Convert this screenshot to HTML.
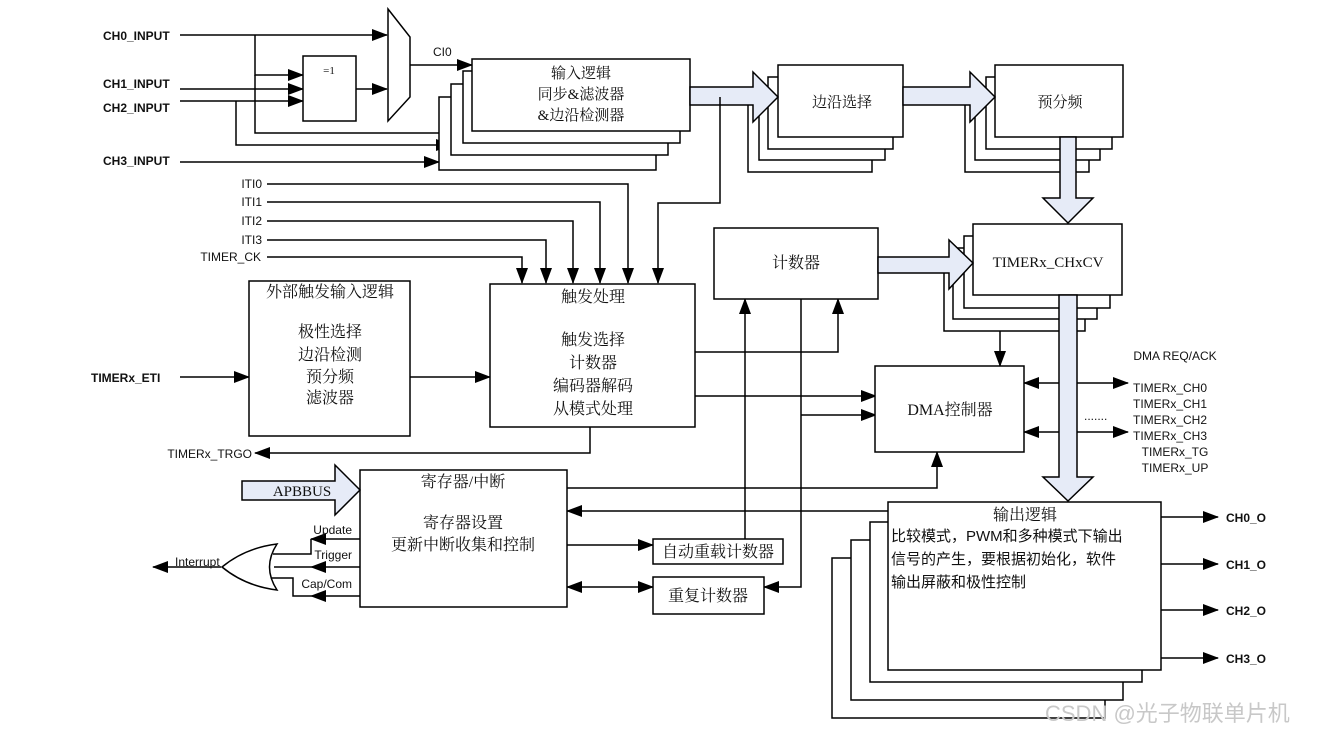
<!DOCTYPE html>
<html><head><meta charset="utf-8"><style>
html,body{margin:0;padding:0;background:#fff;}
svg{display:block;}
text{font-family:"Liberation Serif","Noto Serif CJK SC","Noto Sans CJK SC",serif;fill:#111;}
.s, .s text{font-family:"Liberation Sans","Noto Sans CJK SC",sans-serif;}
.b, .b text{font-family:"Liberation Sans",sans-serif;font-weight:bold;}
</style></head><body>
<svg width="1327" height="735" viewBox="0 0 1327 735" xmlns="http://www.w3.org/2000/svg">
<defs>
<marker id="a" markerUnits="userSpaceOnUse" markerWidth="16" markerHeight="12" refX="15" refY="6" orient="auto"><path d="M0,0 L16,6 L0,12 z" fill="#000"/></marker>
<marker id="s" markerUnits="userSpaceOnUse" markerWidth="16" markerHeight="12" refX="1" refY="6" orient="auto"><path d="M16,0 L0,6 L16,12 z" fill="#000"/></marker>
</defs>
<g stroke="#000" stroke-width="1.5" fill="none">
<line x1="180" y1="35" x2="387" y2="35" marker-end="url(#a)"/>
<polyline points="255,35 255,75 303,75" marker-end="url(#a)"/>
<polyline points="255,75 255,133 463,133" marker-end="url(#a)"/>
<line x1="180" y1="89" x2="303" y2="89" marker-end="url(#a)"/>
<line x1="180" y1="101" x2="303" y2="101" marker-end="url(#a)"/>
<polyline points="236,101 236,145 451,145" marker-end="url(#a)"/>
<line x1="180" y1="162" x2="439" y2="162" marker-end="url(#a)"/>
<line x1="356" y1="89" x2="387" y2="89" marker-end="url(#a)"/>
<line x1="410" y1="65" x2="472" y2="65" marker-end="url(#a)"/>
</g>
<rect x="303" y="56" width="53" height="65" fill="#fff" stroke="#000" stroke-width="1.5"/>
<text x="329" y="74" font-size="11" text-anchor="middle">=1</text>
<polygon points="388,9 410,37 410,97 388,121" fill="#fff" stroke="#000" stroke-width="1.5"/>
<text x="433" y="56" font-size="12" class="s">CI0</text>
<g class="b" font-size="12">
<text x="103" y="40">CH0_INPUT</text><text x="103" y="88">CH1_INPUT</text>
<text x="103" y="112">CH2_INPUT</text><text x="103" y="165">CH3_INPUT</text>
</g>
<g fill="#fff" stroke="#000" stroke-width="1.5">
<rect x="439" y="97" width="217" height="73"/>
<rect x="451" y="84" width="217" height="71"/>
<rect x="463" y="71" width="217" height="72"/>
<rect x="472" y="59" width="218" height="72"/>
</g>
<g font-size="15" text-anchor="middle"><text x="581" y="78">输入逻辑</text><text x="581" y="99">同步&amp;滤波器</text><text x="581" y="120">&amp;边沿检测器</text></g>
<g fill="#fff" stroke="#000" stroke-width="1.5">
<rect x="748" y="101" width="124" height="71"/>
<rect x="759" y="89" width="126" height="71"/>
<rect x="768" y="77" width="125" height="72"/>
<rect x="778" y="65" width="125" height="72"/>
</g>
<text x="842" y="107" font-size="15" text-anchor="middle">边沿选择</text>
<g fill="#fff" stroke="#000" stroke-width="1.5">
<rect x="965" y="101" width="124" height="71"/>
<rect x="975" y="89" width="125" height="71"/>
<rect x="986" y="77" width="126" height="72"/>
<rect x="995" y="65" width="128" height="72"/>
</g>
<text x="1060" y="107" font-size="15" text-anchor="middle">预分频</text>
<g fill="#e6ebf7" stroke="#000" stroke-width="1.5">
<polygon points="690,87 753,87 753,72 778,97 753,122 753,105 690,105"/>
<polygon points="903,87 970,87 970,72 995,97 970,122 970,105 903,105"/>
<polygon points="1060,137 1076,137 1076,198 1093,198 1068,223 1043,198 1060,198"/>
</g>
<g stroke="#000" stroke-width="1.5" fill="none">
<polyline points="267,184 628,184 628,283" marker-end="url(#a)"/>
<polyline points="267,202 600,202 600,283" marker-end="url(#a)"/>
<polyline points="267,221 573,221 573,283" marker-end="url(#a)"/>
<polyline points="267,240 546,240 546,283" marker-end="url(#a)"/>
<polyline points="267,257 522,257 522,283" marker-end="url(#a)"/>
<polyline points="720,97 720,203 658,203 658,283" marker-end="url(#a)"/>
<line x1="180" y1="377" x2="249" y2="377" marker-end="url(#a)"/>
<line x1="410" y1="377" x2="490" y2="377" marker-end="url(#a)"/>
<polyline points="590,427 590,453 255,453" marker-end="url(#a)"/>
<polyline points="695,352 838,352 838,299" marker-end="url(#a)"/>
<line x1="695" y1="396" x2="876" y2="396" marker-end="url(#a)"/>
<polyline points="801,299 801,587 764,587" marker-end="url(#a)"/>
<line x1="801" y1="415" x2="876" y2="415" marker-end="url(#a)"/>
<line x1="745" y1="539" x2="745" y2="299" marker-end="url(#a)"/>
<polyline points="567,488 937,488 937,452" marker-end="url(#a)"/>
<line x1="888" y1="511" x2="567" y2="511" marker-end="url(#a)"/>
<line x1="567" y1="545" x2="653" y2="545" marker-end="url(#a)"/>
<line x1="567" y1="587" x2="653" y2="587" marker-start="url(#s)" marker-end="url(#a)"/>
<line x1="1000" y1="295" x2="1000" y2="366" marker-end="url(#a)"/>
<line x1="1024" y1="383" x2="1128" y2="383" marker-start="url(#s)" marker-end="url(#a)"/>
<line x1="1024" y1="432" x2="1128" y2="432" marker-start="url(#s)" marker-end="url(#a)"/>
<polyline points="360,539 311,539" marker-end="url(#a)"/>
<polyline points="311,539 311,554 273,554"/>
<line x1="360" y1="567" x2="311" y2="567" marker-end="url(#a)"/>
<line x1="311" y1="567" x2="274" y2="567"/>
<line x1="360" y1="596" x2="311" y2="596" marker-end="url(#a)"/>
<polyline points="311,596 293,596 293,578 270,578"/>
<line x1="221" y1="567" x2="153" y2="567" marker-end="url(#a)"/>
<line x1="1161" y1="517" x2="1218" y2="517" marker-end="url(#a)"/>
<line x1="1161" y1="564" x2="1218" y2="564" marker-end="url(#a)"/>
<line x1="1161" y1="610" x2="1218" y2="610" marker-end="url(#a)"/>
<line x1="1161" y1="658" x2="1218" y2="658" marker-end="url(#a)"/>
</g>
<path d="M222,567 Q245,548 277,544 Q262,567 277,590 Q245,586 222,567 z" fill="#fff" stroke="#000" stroke-width="1.5"/>
<g class="s" font-size="12">
<text x="262" y="188" text-anchor="end">ITI0</text><text x="262" y="206" text-anchor="end">ITI1</text>
<text x="262" y="225" text-anchor="end">ITI2</text><text x="262" y="244" text-anchor="end">ITI3</text>
<text x="261" y="261" text-anchor="end">TIMER_CK</text>
<text x="252" y="458" text-anchor="end">TIMERx_TRGO</text>
<text x="352" y="534" text-anchor="end">Update</text><text x="352" y="559" text-anchor="end">Trigger</text>
<text x="352" y="588" text-anchor="end">Cap/Com</text><text x="175" y="566">Interrupt</text>
<text x="1175" y="360" text-anchor="middle">DMA REQ/ACK</text>
<text x="1133" y="392">TIMERx_CH0</text><text x="1133" y="408">TIMERx_CH1</text>
<text x="1133" y="424">TIMERx_CH2</text><text x="1133" y="440">TIMERx_CH3</text>
<text x="1175" y="456" text-anchor="middle">TIMERx_TG</text><text x="1175" y="472" text-anchor="middle">TIMERx_UP</text>
<text x="1084" y="420">.......</text>
</g>
<text x="91" y="382" font-size="12" class="b">TIMERx_ETI</text>
<g class="b" font-size="12"><text x="1226" y="522">CH0_O</text><text x="1226" y="569">CH1_O</text><text x="1226" y="615">CH2_O</text><text x="1226" y="663">CH3_O</text></g>
<g fill="#fff" stroke="#000" stroke-width="1.5">
<rect x="249" y="281" width="161" height="155"/>
<rect x="490" y="284" width="205" height="143"/>
<rect x="714" y="228" width="164" height="71"/>
<rect x="875" y="366" width="149" height="86"/>
<rect x="360" y="470" width="207" height="137"/>
<rect x="653" y="539" width="130" height="25"/>
<rect x="653" y="577" width="111" height="37"/>
</g>
<g font-size="16" text-anchor="middle">
<text x="330" y="297">外部触发输入逻辑</text><text x="330" y="337">极性选择</text><text x="330" y="360">边沿检测</text><text x="330" y="382">预分频</text><text x="330" y="403">滤波器</text>
<text x="593" y="302">触发处理</text><text x="593" y="345">触发选择</text><text x="593" y="368">计数器</text><text x="593" y="391">编码器解码</text><text x="593" y="414">从模式处理</text>
<text x="796" y="268">计数器</text>
<text x="950" y="415">DMA控制器</text>
<text x="463" y="487">寄存器/中断</text><text x="463" y="528">寄存器设置</text><text x="463" y="550">更新中断收集和控制</text>
<text x="718" y="557">自动重载计数器</text><text x="708" y="601">重复计数器</text>
</g>
<g fill="#fff" stroke="#000" stroke-width="1.5">
<rect x="944" y="260" width="141" height="71"/>
<rect x="953" y="248" width="144" height="71"/>
<rect x="964" y="236" width="146" height="72"/>
<rect x="973" y="224" width="149" height="71"/>
</g>
<text x="1048" y="267" font-size="15" text-anchor="middle">TIMERx_CHxCV</text>
<g fill="#e6ebf7" stroke="#000" stroke-width="1.5">
<polygon points="878,257 949,257 949,240 973,263 949,289 949,273 878,273"/>
<polygon points="1059,295 1077,295 1077,477 1093,477 1068,501 1043,477 1059,477"/>
<polygon points="242,481 335,481 335,465 360,490 335,515 335,500 242,500"/>
</g>
<text x="302" y="496" font-size="15" text-anchor="middle">APBBUS</text>
<g fill="#fff" stroke="#000" stroke-width="1.5">
<rect x="832" y="558" width="273" height="160"/>
<rect x="851" y="540" width="272" height="160"/>
<rect x="870" y="522" width="272" height="160"/>
<rect x="888" y="502" width="273" height="168"/>
</g>
<text x="1025" y="520" font-size="16" text-anchor="middle">输出逻辑</text>
<g font-size="15" class="s"><text x="891" y="541">比较模式，PWM和多种模式下输出</text><text x="891" y="564">信号的产生，要根据初始化，软件</text><text x="891" y="587">输出屏蔽和极性控制</text></g>
<text x="1045" y="721" font-size="22" class="s" style="fill:#c8c8c8">CSDN @光子物联单片机</text>
</svg>
</body></html>
